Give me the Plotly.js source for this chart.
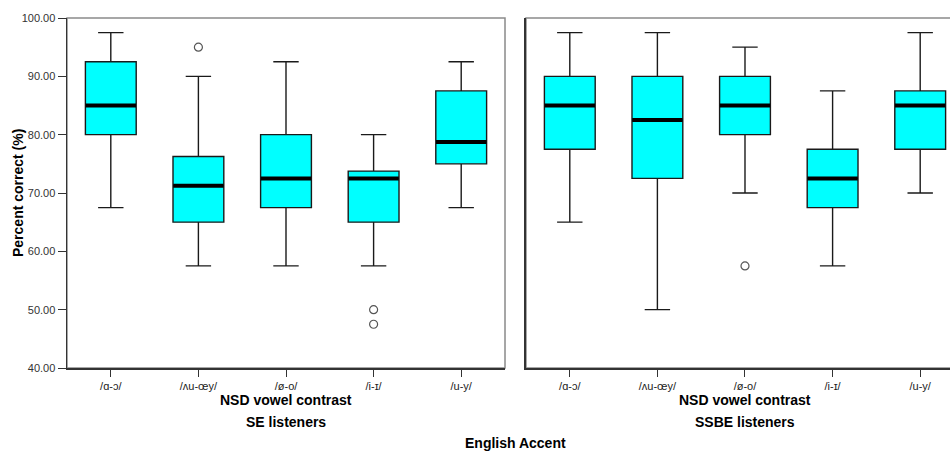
<!DOCTYPE html>
<html>
<head>
<meta charset="utf-8">
<script src="https://cdn.plot.ly/plotly-3.0.1.min.js"></script>
<style>
  html, body { margin: 0; padding: 0; overflow: hidden; background: #fff; }
  #chart { width: 980px; height: 451px; }
</style>
</head>
<body>
<div id="chart"></div>
<script>
// NSD vowel contrasts on the category axis
const contrasts = ['/ɑ-ɔ/', '/ʌu-œy/', '/ø-o/', '/i-ɪ/', '/u-y/'];

// SE listeners: five-number summaries (percent correct)
const seLower  = [67.5, 57.5, 57.5, 57.5, 67.5];
const seQ1     = [80.0, 65.0, 67.5, 65.0, 75.0];
const seMedian = [85.0, 71.25, 72.5, 72.5, 78.75];
const seQ3     = [92.5, 76.25, 80.0, 73.75, 87.5];
const seUpper  = [97.5, 90.0, 92.5, 80.0, 92.5];
// SE listeners: outliers
const seOutlierX = ['/ʌu-œy/', '/i-ɪ/', '/i-ɪ/'];
const seOutlierY = [95.0, 50.0, 47.5];

// SSBE listeners: five-number summaries (percent correct)
const ssbeLower  = [65.0, 50.0, 70.0, 57.5, 70.0];
const ssbeQ1     = [77.5, 72.5, 80.0, 67.5, 77.5];
const ssbeMedian = [85.0, 82.5, 85.0, 72.5, 85.0];
const ssbeQ3     = [90.0, 90.0, 90.0, 77.5, 87.5];
const ssbeUpper  = [97.5, 97.5, 95.0, 87.5, 97.5];
// SSBE listeners: outliers
const ssbeOutlierX = ['/ø-o/'];
const ssbeOutlierY = [57.5];

const yTicks = [40, 50, 60, 70, 80, 90, 100];

const FONT = 'Liberation Sans, Arial, Helvetica, sans-serif';
const CYAN = '#00FFFF';

function boxTrace(q1, med, q3, lo, hi, xa, ya) {
  return {
    type: 'box', x: contrasts,
    q1: q1, median: med, q3: q3, lowerfence: lo, upperfence: hi,
    boxpoints: false, width: 0.58, whiskerwidth: 0.5,
    fillcolor: CYAN, line: { color: '#1a1a1a', width: 1.4 },
    xaxis: xa, yaxis: ya, showlegend: false, hoverinfo: 'skip'
  };
}
// heavy median bar drawn over each box (line-ew spans 1.4 x marker size)
function medianTrace(med, xa, ya) {
  return {
    type: 'scatter', mode: 'markers', x: contrasts, y: med,
    marker: { symbol: 'line-ew', size: 36, line: { color: '#000', width: 4 } },
    xaxis: xa, yaxis: ya, showlegend: false, hoverinfo: 'skip'
  };
}
function outlierTrace(xs, ys, xa, ya) {
  return {
    type: 'scatter', mode: 'markers', x: xs, y: ys,
    marker: { symbol: 'circle-open', size: 8, color: '#555', line: { color: '#555', width: 1.2 } },
    xaxis: xa, yaxis: ya, showlegend: false, hoverinfo: 'skip'
  };
}

const data = [
  boxTrace(seQ1, seMedian, seQ3, seLower, seUpper, 'x', 'y'),
  medianTrace(seMedian, 'x', 'y'),
  outlierTrace(seOutlierX, seOutlierY, 'x', 'y'),
  boxTrace(ssbeQ1, ssbeMedian, ssbeQ3, ssbeLower, ssbeUpper, 'x2', 'y2'),
  medianTrace(ssbeMedian, 'x2', 'y2'),
  outlierTrace(ssbeOutlierX, ssbeOutlierY, 'x2', 'y2')
];

const xCommon = {
  type: 'category', categoryorder: 'array', categoryarray: contrasts,
  range: [-0.5, 4.5], showline: true, linecolor: '#333', linewidth: 1.5,
  ticks: 'outside', ticklen: 7, tickcolor: '#333', tickwidth: 1,
  tickfont: { family: FONT, size: 11, color: '#222' },
  showgrid: false, zeroline: false, fixedrange: true
};

const titleFont = { family: FONT, size: 14, color: '#000' };

const layout = {
  width: 980, height: 451,
  margin: { l: 67, r: 16, t: 18, b: 83 },
  paper_bgcolor: '#fff', plot_bgcolor: '#fff',
  font: { family: FONT, color: '#222' },
  xaxis: Object.assign({}, xCommon, { domain: [0, 0.4883], anchor: 'y' }),
  xaxis2: Object.assign({}, xCommon, { domain: [0.5117, 1], anchor: 'y2' }),
  yaxis: {
    range: [40, 100], tickvals: yTicks, tickformat: '.2f',
    showline: true, linecolor: '#333', linewidth: 1.5,
    ticks: 'outside', ticklen: 8, tickcolor: '#333', tickwidth: 1,
    tickfont: { family: FONT, size: 11, color: '#333' },
    showgrid: false, zeroline: false, fixedrange: true
  },
  yaxis2: {
    range: [40, 100], anchor: 'x2', matches: 'y',
    showline: true, linecolor: '#333', linewidth: 1.5,
    showticklabels: false, ticks: '', showgrid: false, zeroline: false, fixedrange: true
  },
  shapes: [
    { type: 'rect', xref: 'x domain', yref: 'y domain', x0: 0, x1: 1, y0: 0, y1: 1,
      line: { color: '#8a8a8a', width: 1.5 }, layer: 'below' },
    { type: 'rect', xref: 'x2 domain', yref: 'y2 domain', x0: 0, x1: 1, y0: 0, y1: 1,
      line: { color: '#8a8a8a', width: 1.5 }, layer: 'below' }
  ],
  annotations: [
    { text: '<b>Percent correct (%)</b>', xref: 'paper', yref: 'paper', x: 0, xshift: -49, y: 0.5,
      xanchor: 'center', yanchor: 'middle', textangle: -90, showarrow: false, font: titleFont },
    { text: '<b>NSD vowel contrast</b>', xref: 'x domain', yref: 'paper', x: 0.5, y: 0, yanchor: 'middle', yshift: -32,
      showarrow: false, font: titleFont },
    { text: '<b>SE listeners</b>', xref: 'x domain', yref: 'paper', x: 0.5, y: 0, yanchor: 'middle', yshift: -54,
      showarrow: false, font: titleFont },
    { text: '<b>NSD vowel contrast</b>', xref: 'x2 domain', yref: 'paper', x: 0.5, y: 0, yanchor: 'middle', yshift: -32,
      showarrow: false, font: titleFont },
    { text: '<b>SSBE listeners</b>', xref: 'x2 domain', yref: 'paper', x: 0.5, y: 0, yanchor: 'middle', yshift: -54,
      showarrow: false, font: titleFont },
    { text: '<b>English Accent</b>', xref: 'paper', yref: 'paper', x: 0.5, y: 0, yanchor: 'middle', yshift: -75,
      showarrow: false, font: titleFont }
  ]
};

Plotly.newPlot('chart', data, layout, { staticPlot: true, displayModeBar: false });
</script>
</body>
</html>
